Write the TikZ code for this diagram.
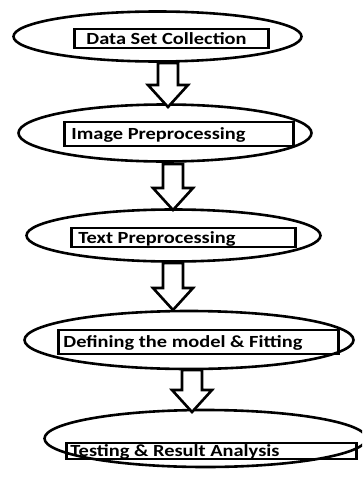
\documentclass[tikz,border=0pt]{standalone}
\usepackage{fontspec}
\usetikzlibrary{shapes.geometric,calc}
\newfontfamily\carlito[FakeStretch=1.2]{Carlito}
\definecolor{qqqqqq}{rgb}{0,0,0}

\tikzset{
  stage/.style={ellipse,draw=qqqqqq,line width=2.6pt,inner sep=0pt},
  tagbox/.style={rectangle,draw=qqqqqq,line width=2.6pt,inner sep=0pt},
  steptext/.style={anchor=base west,inner sep=0pt,font=\carlito\bfseries\fontsize{17}{19}\selectfont},
  hollow/.style={draw=qqqqqq,line width=2.6pt,line join=miter,fill=white}
}

\begin{document}
\begin{tikzpicture}[x=1pt,y=-1pt]
\useasboundingbox (0,0) rectangle (362,479);
\clip (0,0) rectangle (362,479);

% stages
\node[stage,minimum width=288,minimum height=50] (e1) at (157.5,36.5) {};
\node[stage,minimum width=293,minimum height=57] (e2) at (165,133) {};
\node[stage,minimum width=294,minimum height=52] (e3) at (173.5,235.5) {};
\node[stage,minimum width=329,minimum height=58] (e4) at (189,340) {};
\node[stage,minimum width=322,minimum height=57] (e5) at (205.5,438.5) {};

% boxes
\node[tagbox,minimum width=194,minimum height=19] (b1) at (171.5,38.5) {};
\node[tagbox,minimum width=229,minimum height=24] (b2) at (179,134) {};
\node[tagbox,minimum width=224,minimum height=19] (b3) at (183.5,237.5) {};
\node[tagbox,minimum width=280,minimum height=24] (b4) at (198.5,342) {};
\node[tagbox,minimum width=290,minimum height=16] (b5) at (211.5,451) {};

% texts
\node[steptext] (t1) at ([xshift=13pt,yshift=-5.5pt]b1.west) {Data Set Collection};
\node[steptext] (t2) at ([xshift=8pt,yshift=-5.5pt]b2.west) {Image Preprocessing};
\node[steptext] (t3) at ([xshift=8pt,yshift=-5.5pt]b3.west) {Text Preprocessing};
\node[steptext] (t4) at ([xshift=6pt,yshift=-5.5pt]b4.west) {Defining the model \& Fitting};
\node[steptext] (t5) at ([xshift=5pt,yshift=-5.5pt]b5.west) {Testing \& Result Analysis};

% block arrows
\coordinate (a1) at (168,63);  \coordinate (p1) at (168,107);
\coordinate (a2) at (173,164); \coordinate (p2) at (173,210);
\coordinate (a3) at (173,263); \coordinate (p3) at (173,310);
\coordinate (a4) at (192,370); \coordinate (p4) at (192,412);
\foreach \s/\t in {a1/p1,a2/p2,a3/p3,a4/p4}{
  \draw[hollow] ($(\s)+(-10,0)$) -- ($(\t)+(-10,-22)$) -- ($(\t)+(-20,-22)$)
    -- (\t) -- ($(\t)+(20,-22)$) -- ($(\t)+(10,-22)$) -- ($(\s)+(10,0)$) -- cycle;
}
\end{tikzpicture}
\end{document}
